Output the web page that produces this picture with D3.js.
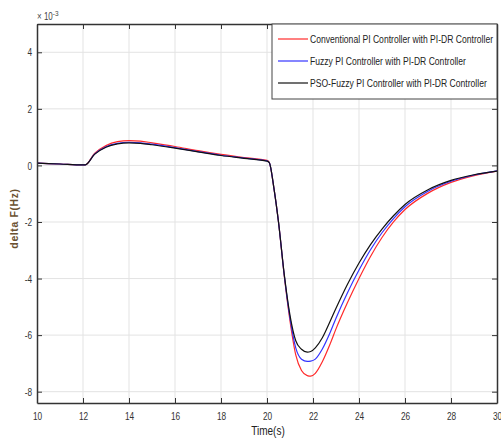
<!DOCTYPE html>
<html lang="en">
  <head>
    <meta charset="UTF-8" />
    <title></title>
    <script src="https://d3js.org/d3.v7.min.js"></script>
    <style>
      body { margin: 0; background: #fff; }
      text { font-family: 'Liberation Sans', Arial, sans-serif; }
    </style>
  </head>
  <body>
    <svg id="my_dataviz" width="501" height="444"></svg>
    <script>
      // time points (s) and delta F values (x 1e-3 Hz)
      const time = [10, 11, 12, 12.1, 12.5, 13, 13.5, 14, 14.5, 15, 16, 17, 18, 19, 20, 20.1,
        20.3, 20.5, 20.75, 21, 21.25, 21.5, 21.75, 21.9, 22.1, 22.4, 22.75, 23, 23.5, 24,
        24.5, 25, 25.5, 26, 27, 28, 29, 30]
      const conventional = [0.08, 0.05, 0.02, 0.02, 0.42, 0.7, 0.84, 0.88, 0.86, 0.8, 0.67, 0.52, 0.39, 0.28, 0.18, 0.1,
        -0.8, -2.0, -3.9, -5.5, -6.7, -7.25, -7.43, -7.45, -7.35, -6.95, -6.3, -5.78, -4.85, -4.0,
        -3.22, -2.55, -2.0, -1.56, -0.98, -0.6, -0.36, -0.2]
      const fuzzy = [0.08, 0.05, 0.02, 0.02, 0.4, 0.66, 0.78, 0.82, 0.8, 0.75, 0.63, 0.49, 0.36, 0.26, 0.16, 0.1,
        -0.8, -2.0, -3.88, -5.4, -6.45, -6.85, -6.93, -6.92, -6.85, -6.5, -5.9, -5.4, -4.5, -3.7,
        -2.98, -2.38, -1.88, -1.46, -0.91, -0.56, -0.34, -0.19]
      const psoFuzzy = [0.08, 0.05, 0.02, 0.02, 0.39, 0.64, 0.76, 0.8, 0.78, 0.73, 0.61, 0.48, 0.35, 0.25, 0.15, 0.1,
        -0.8, -2.0, -3.85, -5.3, -6.2, -6.5, -6.6, -6.58, -6.45, -6.1, -5.5, -5.05, -4.2, -3.45,
        -2.8, -2.25, -1.78, -1.38, -0.86, -0.53, -0.33, -0.2]
      const xTicks = [10, 12, 14, 16, 18, 20, 22, 24, 26, 28, 30]
      const yTicks = [-8, -6, -4, -2, 0, 2, 4]
      const seriesNames = ['Conventional PI Controller with PI-DR Controller',
        'Fuzzy PI Controller with PI-DR Controller',
        'PSO-Fuzzy PI Controller with PI-DR Controller']
      const seriesColors = ['#ff2a2a', '#3333ff', '#111111']

      const svg = d3.select('svg')
      const margin = { left: 37, right: 4, top: 24, bottom: 41 }
      const width = +svg.attr('width'), height = +svg.attr('height')

      const x = d3.scaleLinear().domain([10, 30]).range([margin.left, width - margin.right])
      const y = d3.scaleLinear().domain([-8.4, 5]).range([height - margin.bottom, margin.top])

      // the source uses a narrow sans face; squeeze text horizontally around its anchor point
      function condense(sel, s) {
        sel.each(function () {
          const t = d3.select(this)
          const tx = +t.attr('x') || 0, ty = +t.attr('y') || 0
          t.attr('x', 0).attr('y', 0)
            .attr('transform', `translate(${tx},${ty}) scale(${s},1)`)
        })
      }

      // grid
      svg.append('g').selectAll('line').data(xTicks.slice(1, -1)).join('line')
        .attr('x1', d => x(d)).attr('x2', d => x(d))
        .attr('y1', y(5)).attr('y2', y(-8.4))
        .attr('stroke', '#e3e3e3').attr('stroke-width', 1)
      svg.append('g').selectAll('line').data(yTicks).join('line')
        .attr('x1', x(10)).attr('x2', x(30))
        .attr('y1', d => y(d)).attr('y2', d => y(d))
        .attr('stroke', '#e3e3e3').attr('stroke-width', 1)

      // curves
      const line = d3.line()
        .x((d, i) => x(time[i]))
        .y(d => y(d))
        .curve(d3.curveMonotoneX)
      const series = [conventional, fuzzy, psoFuzzy]
      series.forEach((s, k) => {
        svg.append('path')
          .datum(s)
          .attr('d', line)
          .attr('fill', 'none')
          .attr('stroke', seriesColors[k])
          .attr('stroke-width', 1.2)
      })

      // axes (ticks inside, on all four sides)
      const axisColor = '#333'
      const tk = 5
      const axB = svg.append('g').attr('transform', `translate(0,${y(-8.4)})`)
        .call(d3.axisBottom(x).tickValues(xTicks).tickSizeInner(-tk).tickSizeOuter(0).tickPadding(9))
      const axT = svg.append('g').attr('transform', `translate(0,${y(5)})`)
        .call(d3.axisTop(x).tickValues(xTicks).tickSizeInner(-tk).tickSizeOuter(0).tickFormat(''))
      const axL = svg.append('g').attr('transform', `translate(${x(10)},0)`)
        .call(d3.axisLeft(y).tickValues(yTicks).tickSizeInner(-tk).tickSizeOuter(0).tickPadding(5))
      const axR = svg.append('g').attr('transform', `translate(${x(30)},0)`)
        .call(d3.axisRight(y).tickValues(yTicks).tickSizeInner(-tk).tickSizeOuter(0).tickFormat(''))
      ;[axB, axT, axL, axR].forEach(g => {
        g.select('.domain').attr('stroke', axisColor).attr('stroke-width', 1.5)
        g.selectAll('.tick line').attr('stroke', axisColor)
        g.selectAll('.tick text').attr('fill', '#333').style('font-size', '11.5px')
          .style('font-family', "'Liberation Sans', Arial, sans-serif")
      })
      // d3 uses a '−' minus; MATLAB shows a hyphen
      axL.selectAll('.tick text').text(d => String(d))
      condense(axB.selectAll('.tick text'), 0.72)
      condense(axL.selectAll('.tick text'), 0.72)

      // exponent label
      const expo = svg.append('text').attr('x', x(10)).attr('y', margin.top - 4)
        .attr('fill', '#444').style('font-size', '10px')
      expo.append('tspan').text('\u00d7 10')
      expo.append('tspan').attr('dy', -4).style('font-size', '8px').text('-3')
      condense(expo, 0.8)

      // axis titles
      const xt = svg.append('text')
        .attr('x', 268).attr('y', 435)
        .attr('text-anchor', 'middle').attr('fill', '#222')
        .style('font-size', '12.5px').text('Time(s)')
      condense(xt, 0.8)
      svg.append('text')
        .attr('transform', `translate(18,${(y(5) + y(-8.4)) / 2 + 5}) rotate(-90)`)
        .attr('text-anchor', 'middle').attr('fill', '#6a5030')
        .style('font-size', '10.5px').style('font-weight', 'bold')
        .style('letter-spacing', '0.6px')
        .text('delta F(Hz)')

      // legend
      const lg = svg.append('g')
      lg.append('rect').attr('x', 272).attr('y', margin.top).attr('width', x(30) - 272).attr('height', 75)
        .attr('fill', '#fff').attr('stroke', '#444').attr('stroke-width', 1)
      seriesNames.forEach((name, k) => {
        const yy = 39 + k * 22
        lg.append('line').attr('x1', 278).attr('x2', 308).attr('y1', yy).attr('y2', yy)
          .attr('stroke', seriesColors[k]).attr('stroke-width', 1.2)
        const t = lg.append('text').attr('x', 310).attr('y', yy + 4)
          .attr('fill', '#222').style('font-size', '11px').text(name)
        condense(t, 0.78)
      })
    </script>
  </body>
</html>
